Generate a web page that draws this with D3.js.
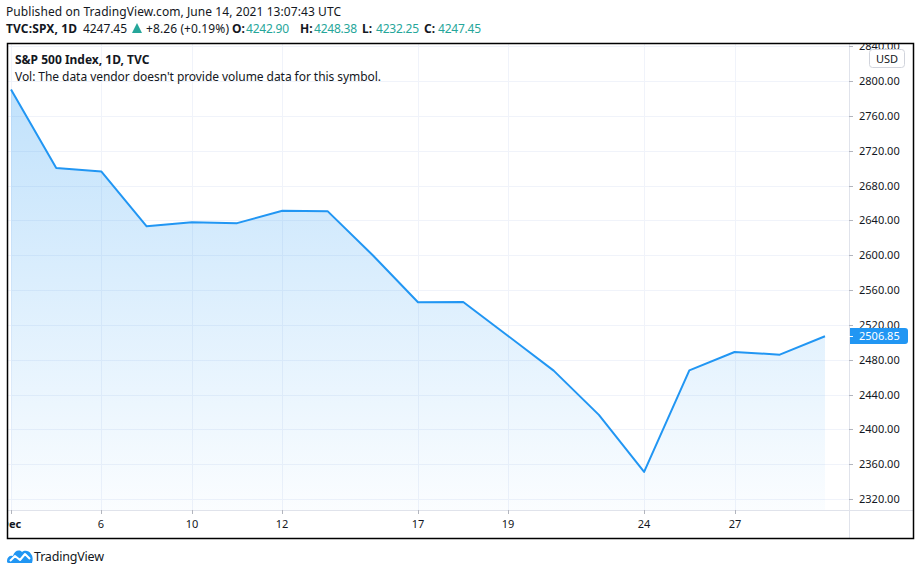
<!DOCTYPE html>
<html>
<head>
<meta charset="utf-8">
<script src="https://cdn.jsdelivr.net/npm/d3@7"></script>
<style>
  body { margin: 0; background: #fff; }
  svg { display: block; font-family: "Noto Sans", "Open Sans", sans-serif; }
</style>
</head>
<body>
<svg id="chart" width="920" height="575"></svg>
<script>
// data: S&P 500 daily closes, December
var days = [3, 4, 6, 7, 10, 11, 12, 13, 14, 17, 18, 19, 20, 21, 24, 26, 27, 28, 31];
var closes = [2790.37, 2700.06, 2695.95, 2633.08, 2637.72, 2636.78, 2651.07, 2650.54, 2599.95,
  2545.94, 2546.16, 2506.96, 2467.42, 2416.62, 2351.10, 2467.70, 2488.83, 2485.74, 2506.85];
var timeTicks = [0, 2, 4, 6, 9, 11, 14, 16];
var timeTickLabels = ["Dec", "6", "10", "12", "17", "19", "24", "27"];
var priceTicks = [2320, 2360, 2400, 2440, 2480, 2520, 2560, 2600, 2640, 2680, 2720, 2760, 2800, 2840];
var ohlcNames = ["O:", "H:", "L:", "C:"];
var ohlcValues = ["4242.90", "4248.38", "4232.25", "4247.45"];

var svg = d3.select("#chart");
var ink = "#131722";
var blue = "#2196f3";
var teal = "#26a69a";

// pane geometry
var pane = { left: 7, top: 43, right: 913, bottom: 538 };
var axisX = 849, axisY = 510;

var x = d3.scaleLinear().domain([0, days.length - 1]).range([11, 825]);
var y = d3.scaleLinear().domain([2320, 2800]).range([499, 81]);

//header
var head = svg.append("g").attr("font-size", 12).attr("fill", ink);
head.append("text").attr("x", 6).attr("y", 16).attr("textLength", 335)
    .text("Published on TradingView.com, June 14, 2021 13:07:43 UTC");
head.append("text").attr("x", 6).attr("y", 33).attr("font-weight", "bold").attr("textLength", 71).text("TVC:SPX, 1D");
head.append("text").attr("x", 83).attr("y", 33).attr("textLength", 44).text("4247.45");
head.append("path").attr("d", "M132,33 L137,23 L142,33 Z").attr("fill", teal);
head.append("text").attr("x", 146).attr("y", 33).attr("textLength", 83).text("+8.26 (+0.19%)");
var ohlcX = [232, 300, 362, 424];
ohlcNames.forEach(function(n, i) {
    head.append("text").attr("x", ohlcX[i]).attr("y", 33).attr("font-weight", "bold").text(n);
    head.append("text").attr("x", ohlcX[i] + 14).attr("y", 33).attr("fill", teal)
        .attr("textLength", 43).text(ohlcValues[i]);
});

var defs = svg.append("defs");
var grad = defs.append("linearGradient").attr("id", "fillGrad")
    .attr("x1", 0).attr("y1", 0).attr("x2", 0).attr("y2", 1);
grad.append("stop").attr("offset", "0%").attr("stop-color", blue).attr("stop-opacity", 0.28);
grad.append("stop").attr("offset", "100%").attr("stop-color", blue).attr("stop-opacity", 0.02);
defs.append("clipPath").attr("id", "paneClip").append("rect")
    .attr("x", pane.left).attr("y", pane.top).attr("width", axisX - pane.left).attr("height", axisY - pane.top);
defs.append("clipPath").attr("id", "timeClip").append("rect")
    .attr("x", pane.left + 1).attr("y", axisY).attr("width", axisX - pane.left).attr("height", pane.bottom - axisY);
defs.append("clipPath").attr("id", "priceClip").append("rect")
    .attr("x", axisX).attr("y", pane.top + 1).attr("width", pane.right - axisX).attr("height", axisY - pane.top);

// grid
var grid = svg.append("g").attr("clip-path", "url(#paneClip)").attr("stroke", "#f0f3fa").attr("stroke-width", 1);
grid.selectAll(".h").data(priceTicks).enter().append("line")
    .attr("x1", pane.left).attr("x2", axisX)
    .attr("y1", function(d) { return Math.round(y(d)) + 0.5; })
    .attr("y2", function(d) { return Math.round(y(d)) + 0.5; });
grid.selectAll(".v").data(timeTicks).enter().append("line")
    .attr("y1", pane.top).attr("y2", axisY)
    .attr("x1", function(d) { return Math.round(x(d)) + 0.5; })
    .attr("x2", function(d) { return Math.round(x(d)) + 0.5; });

// area + line
var plot = svg.append("g").attr("clip-path", "url(#paneClip)");
var area = d3.area().x(function(d, i) { return x(i); }).y0(axisY).y1(function(d) { return y(d); });
var line = d3.line().x(function(d, i) { return x(i); }).y(function(d) { return y(d); });
plot.append("path").attr("d", area(closes)).attr("fill", "url(#fillGrad)");
plot.append("path").attr("d", line(closes)).attr("fill", "none")
    .attr("stroke", blue).attr("stroke-width", 2).attr("stroke-linejoin", "round");

// legend in pane
var leg = svg.append("g").attr("fill", ink).attr("font-size", 12);
leg.append("text").attr("x", 15).attr("y", 64).attr("font-weight", "bold").text("S&P 500 Index, 1D, TVC");
leg.append("text").attr("x", 15).attr("y", 81).attr("textLength", 366)
    .text("Vol: The data vendor doesn't provide volume data for this symbol.");

// axes separators
svg.append("line").attr("x1", axisX + 0.5).attr("x2", axisX + 0.5).attr("y1", pane.top).attr("y2", pane.bottom)
    .attr("stroke", "#e0e3eb");
svg.append("line").attr("x1", pane.left).attr("x2", pane.right).attr("y1", axisY + 0.5).attr("y2", axisY + 0.5)
    .attr("stroke", "#e0e3eb");

// price axis
var yAxis = svg.append("g").attr("clip-path", "url(#priceClip)").attr("font-size", 11).attr("fill", ink);
var yt = yAxis.selectAll("g").data(priceTicks).enter().append("g")
    .attr("transform", function(d) { return "translate(0," + Math.round(y(d)) + ")"; });
yt.append("line").attr("x1", axisX).attr("x2", axisX + 4).attr("y1", 0.5).attr("y2", 0.5).attr("stroke", "#b2b5be");
yt.append("text").attr("x", 859).attr("dy", "0.35em").text(function(d) { return d3.format(".2f")(d); });

// USD badge
svg.append("rect").attr("x", 869.5).attr("y", 49.5).attr("width", 35).attr("height", 18).attr("rx", 3)
    .attr("fill", "#fff").attr("stroke", "#d1d4dc");
svg.append("text").attr("x", 887).attr("y", 62.5).attr("text-anchor", "middle").attr("font-size", 11)
    .attr("fill", ink).text("USD");

// last price label
var last = closes[closes.length - 1];
var ly = Math.round(y(last));
svg.append("path")
    .attr("d", "M" + (axisX + 1) + "," + (ly - 8) + " h55 a3,3 0 0 1 3,3 v10 a3,3 0 0 1 -3,3 h-55 Z")
    .attr("fill", blue);
svg.append("line").attr("x1", axisX).attr("x2", axisX + 4).attr("y1", ly + 0.5)
    .attr("y2", ly + 0.5).attr("stroke", "#fff");
svg.append("text").attr("x", 859).attr("y", y(last)).attr("dy", "0.35em").attr("font-size", 11)
    .attr("fill", "#fff").text(d3.format(".2f")(last));

// time axis
var xAxis = svg.append("g").attr("clip-path", "url(#timeClip)").attr("font-size", 11).attr("fill", ink);
var xt = xAxis.selectAll("g").data(timeTicks).enter().append("g")
    .attr("transform", function(d) { return "translate(" + Math.round(x(d)) + ",0)"; });
xt.append("line").attr("x1", 0.5).attr("x2", 0.5).attr("y1", axisY).attr("y2", axisY + 4).attr("stroke", "#b2b5be");
xt.append("text").attr("y", 528).attr("text-anchor", "middle")
    .attr("font-weight", function(d, i) { return i == 0 ? "bold" : "normal"; })
    .text(function(d, i) { return timeTickLabels[i]; });

// pane border
svg.append("rect").attr("x", pane.left + 0.5).attr("y", pane.top + 0.5)
    .attr("width", pane.right - pane.left).attr("height", pane.bottom - pane.top)
    .attr("fill", "none").attr("stroke", "#000").attr("stroke-width", 1.5);

// footer logo
var logo = svg.append("g").attr("transform", "translate(7,548)");
logo.append("path")
    .attr("d", "M0,13 C0,9 3,7 6,8 C7,3 12,1 15,4 C17,2 22,2 24,6 C26,8 26,12 25,15 L2,15 C0,15 0,14 0,13 Z")
    .attr("fill", blue);
logo.append("path").attr("d", "M3,13 L8,8 L13,12 L18,6 L23,11").attr("fill", "none")
    .attr("stroke", "#fff").attr("stroke-width", 2).attr("stroke-linejoin", "round");
svg.append("text").attr("x", 34).attr("y", 561).attr("font-size", 12.5).attr("fill", ink)
    .attr("textLength", 70).text("TradingView");
</script>
</body>
</html>
